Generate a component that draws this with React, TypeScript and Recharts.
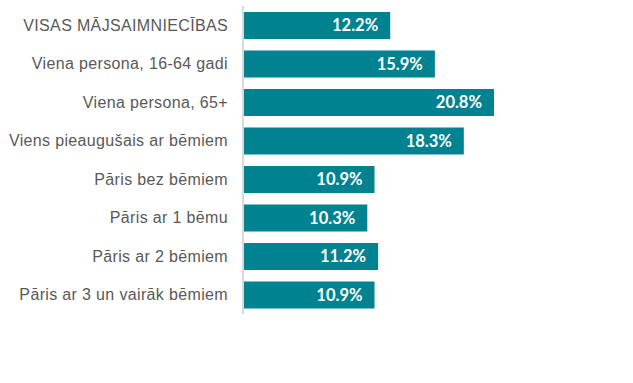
import React from "react";
import { BarChart, Bar, XAxis, YAxis, LabelList } from "recharts";

const categories = [
  "VISAS MĀJSAIMNIECĪBAS",
  "Viena persona, 16-64 gadi",
  "Viena persona, 65+",
  "Viens pieaugušais ar bēmiem",
  "Pāris bez bēmiem",
  "Pāris ar 1 bēmu",
  "Pāris ar 2 bēmiem",
  "Pāris ar 3 un vairāk bēmiem",
];
const values = [12.2, 15.9, 20.8, 18.3, 10.9, 10.3, 11.2, 10.9];

const data = categories.map((name, i) => ({ name, value: values[i] }));

const ValueLabel = (props: any) => {
  const { x, y, width, height, value } = props;
  return (
    <text
      x={Number(x) + Number(width) - 12}
      y={Number(y) + Number(height) / 2}
      dy="0.36em"
      textAnchor="end"
      fill="#ffffff"
      fontFamily="Lato, 'Open Sans', sans-serif"
      fontWeight={700}
      fontSize={16.5}
    >
      {Number(value).toFixed(1)}%
    </text>
  );
};

export default function App() {
  return (
    <div style={{ position: "absolute", left: 0, top: 0, background: "#fff" }}>
      <BarChart
        width={633}
        height={383}
        data={data}
        layout="vertical"
        margin={{ top: 6, right: 28, bottom: 69, left: 0 }}
        barSize={27}
      >
        <XAxis type="number" domain={[0, 30]} hide />
        <YAxis
          type="category"
          dataKey="name"
          width={243}
          axisLine={{ stroke: "#d9d9d9", strokeWidth: 2 }}
          tickLine={false}
          tickSize={0}
          tickMargin={15}
          interval={0}
          tick={{
            fill: "#595959",
            fontSize: 16,
            letterSpacing: 0.35,
            fontFamily: "'Liberation Sans', Arial, sans-serif",
          }}
        />
        <Bar dataKey="value" fill="#008291" isAnimationActive={false}>
          <LabelList dataKey="value" content={ValueLabel} />
        </Bar>
      </BarChart>
    </div>
  );
}
